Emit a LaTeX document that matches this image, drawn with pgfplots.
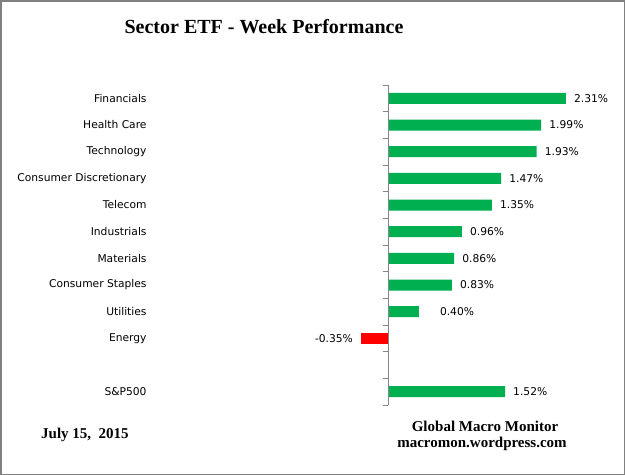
\documentclass[border=0pt]{standalone}
\usepackage{pgfplots}
\usepackage{pgfplotstable}
\pgfplotsset{compat=1.18}
\usepackage{fontspec}
\newfontfamily\lab{DejaVu Sans}
\newfontfamily\tms{Liberation Serif}
\newcommand\labfont{\lab\fontsize{10.7bp}{12bp}\selectfont}
\definecolor{barGreen}{HTML}{00B050}
\definecolor{barRed}{HTML}{FF0000}
\definecolor{axGray}{HTML}{868686}
\definecolor{frameGray}{HTML}{808080}

% y = slot (0 at top), val = weekly change in %, off = label gap
\pgfplotstableread{
y val off
0 2.31 8
1 1.99 8
2 1.93 8
3 1.47 8
4 1.35 8
5 0.96 8
6 0.86 8
7 0.83 8
8 0.40 21
11 1.52 8
}\pos
\pgfplotstableread{
y val off
9 -0.35 8
}\neg

\begin{document}
\begin{tikzpicture}
\draw[frameGray, line width=1.5bp] (0.75bp,-0.75bp) rectangle (624.25bp,-474.25bp);

\node[font=\tms\bfseries\fontsize{20bp}{24bp}\selectfont, anchor=base] at (264bp,-33bp) {Sector ETF - Week Performance};

\begin{axis}[
  at={(147bp,-405bp)}, anchor=south west,
  scale only axis, width=472bp, height=320bp,
  xmin=-3.13, xmax=3.0, ymin=-0.5, ymax=11.5,
  y dir=reverse,
  axis line style={draw=none},
  xtick=\empty,
  ytick={0,1,2,3,4,5,6,7,8,9,11},
  yticklabels={Financials,Health Care,Technology,Consumer Discretionary,Telecom,Industrials,Materials,Consumer Staples,Utilities,Energy,S\&P500},
  ytick style={draw=none},
  yticklabel style={inner xsep=0pt, font=\labfont, anchor=east, xshift=4bp},
  xbar, bar width=11bp, bar shift=0pt,
  clip=false,
  nodes near coords={\pgfmathprintnumber[fixed,fixed zerofill,precision=2,assume math mode=true]{\pgfplotspointmeta}\%},
  nodes near coords align={horizontal},
]
\addplot[draw=none, fill=barGreen,
  visualization depends on={\thisrow{off} \as \myoff},
  every node near coord/.append style={font=\labfont, text=black, inner xsep=0pt, xshift=\myoff bp}]
  table[x=val, y=y] {\pos};
\addplot[draw=none, fill=barRed,
  every node near coord/.append style={font=\labfont, text=black, inner xsep=0pt, xshift=-8bp}]
  table[x=val, y=y] {\neg};

\draw[axGray, line width=0.8bp] (axis cs:0,-0.5) -- (axis cs:0,11.5);
\pgfplotsinvokeforeach{-0.5,0.5,...,11.5}{
  \draw[axGray, line width=0.8bp] (axis cs:0,#1) -- ([xshift=-5bp]axis cs:0,#1);
}
\end{axis}

\node[font=\tms\bfseries\fontsize{15bp}{18bp}\selectfont, anchor=base west, inner sep=0pt] at (41bp,-438bp) {July 15,\ \ 2015};
\node[font=\tms\bfseries\fontsize{15bp}{18bp}\selectfont, anchor=base] at (485bp,-431bp) {Global Macro Monitor};
\node[font=\tms\bfseries\fontsize{15bp}{18bp}\selectfont, anchor=base] at (482bp,-447bp) {macromon.wordpress.com};
\end{tikzpicture}
\end{document}
